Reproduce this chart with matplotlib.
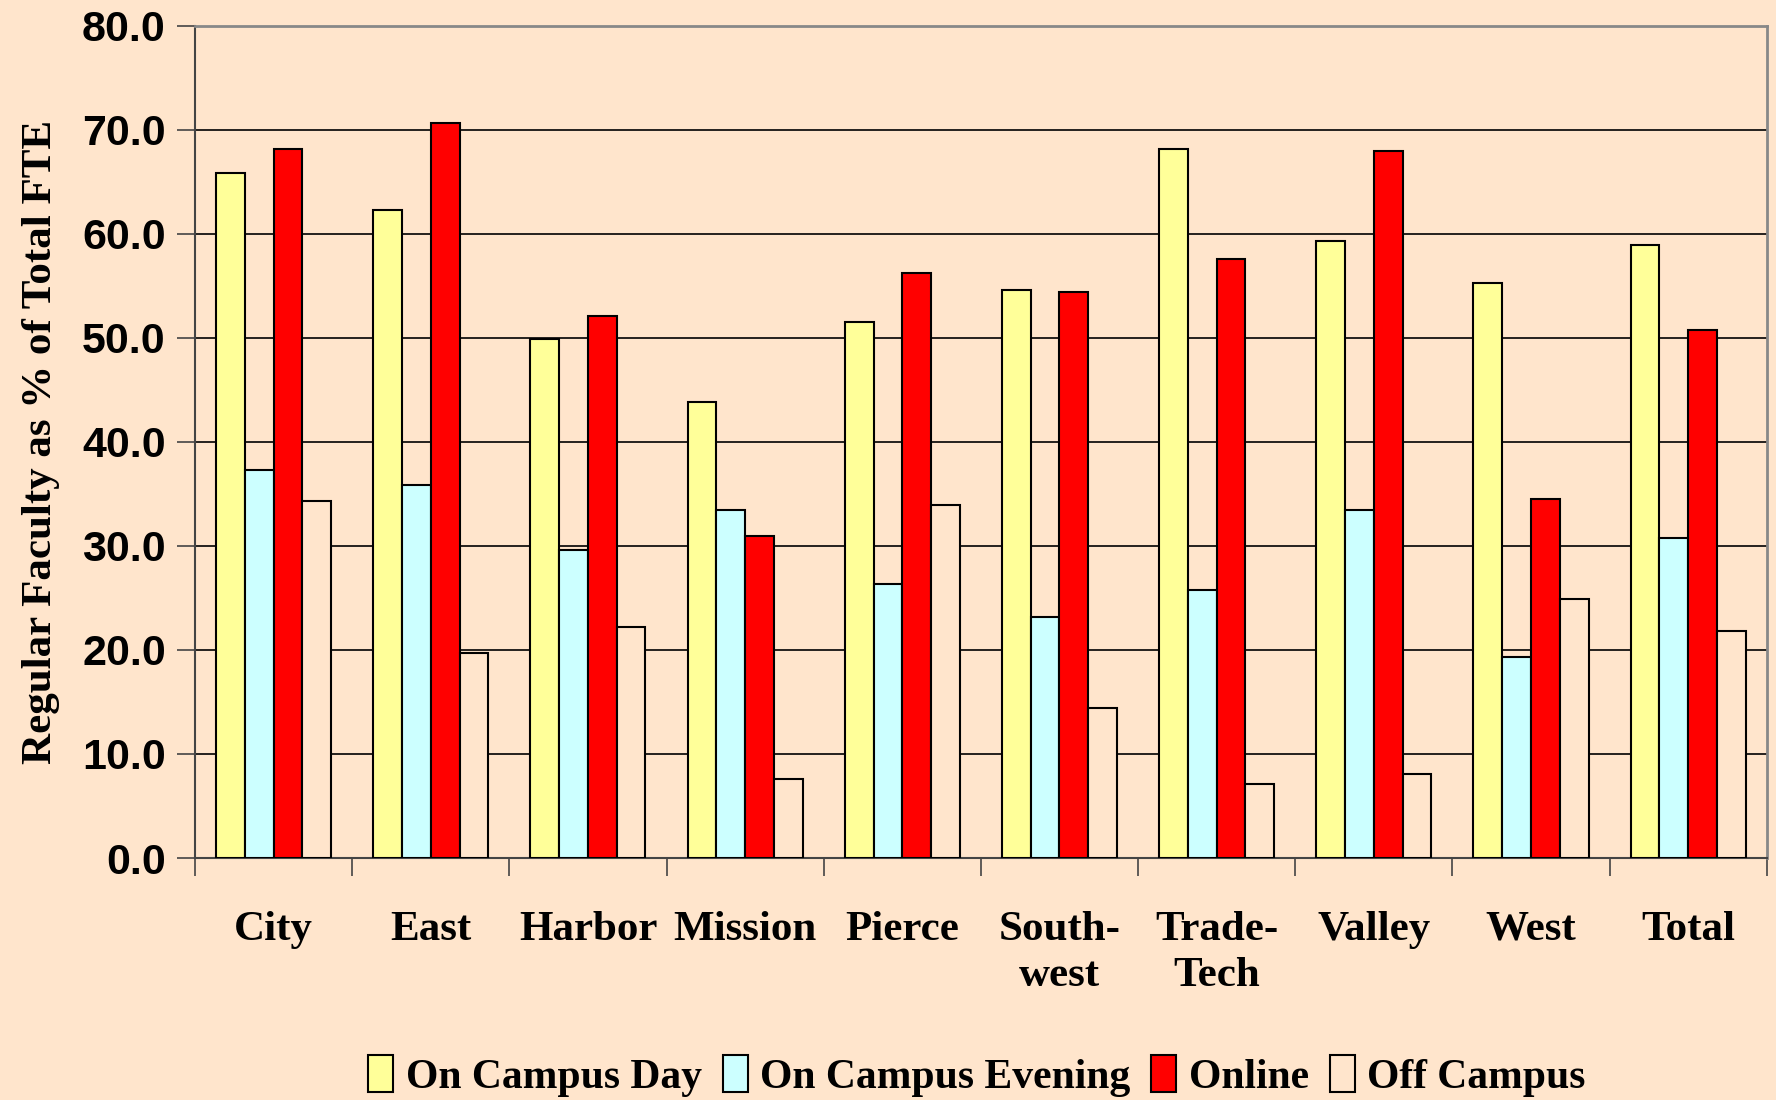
import numpy as np
import matplotlib.pyplot as plt
from matplotlib.ticker import FixedLocator

colleges = ["City", "East", "Harbor", "Mission", "Pierce", "South-\nwest",
            "Trade-\nTech", "Valley", "West", "Total"]
day = [65.9, 62.3, 49.9, 43.8, 51.5, 54.6, 68.2, 59.3, 55.3, 58.9]
evening = [37.3, 35.9, 29.6, 33.5, 26.3, 23.2, 25.8, 33.5, 19.3, 30.8]
online = [68.2, 70.7, 52.1, 31.0, 56.2, 54.4, 57.6, 68.0, 34.5, 50.8]
off_campus = [34.3, 19.7, 22.2, 7.6, 33.9, 14.4, 7.1, 8.1, 24.9, 21.8]

series = ["On Campus Day", "On Campus Evening", "Online", "Off Campus"]
bg = "#FFE5CC"
colors = ["#FFFF99", "#CCFFFF", "#FF0000", bg]

fig = plt.figure(figsize=(17.76, 11), dpi=100, facecolor=bg)
ax = fig.add_axes([0.1098, 0.22, 0.885, 0.7564], facecolor=bg)

x = np.arange(len(colleges))
w = 0.183
for i, vals in enumerate([day, evening, online, off_campus]):
    ax.bar(x + (i - 1.5) * w, vals, w, color=colors[i], edgecolor="black",
           linewidth=1.5, label=series[i], zorder=3)

ax.set_ylim(0, 80)
ax.set_xlim(-0.5, len(colleges) - 0.5)
ax.set_yticks(np.arange(0, 81, 10))
ax.set_yticklabels([f"{v:.1f}" for v in np.arange(0, 81, 10)],
                   fontfamily="Liberation Sans", fontweight="bold", fontsize=31)
ax.yaxis.grid(True, color="black", linewidth=1.2, zorder=0)
ax.tick_params(axis="y", length=13, width=1.2, color="#444444", pad=8)

ax.set_xticks(x)
ax.set_xticklabels(colleges, fontfamily="Liberation Serif", fontweight="bold",
                   fontsize=31, linespacing=1.3)
ax.xaxis.set_minor_locator(FixedLocator(np.arange(-0.5, len(colleges), 1)))
ax.tick_params(axis="x", which="major", length=0, pad=38)
ax.tick_params(axis="x", which="minor", length=13, width=1.2, color="#444444")

for s in ["top", "right"]:
    ax.spines[s].set_color("#888888")
    ax.spines[s].set_linewidth(2)
for s in ["left", "bottom"]:
    ax.spines[s].set_color("#444444")
    ax.spines[s].set_linewidth(1.5)

ax.set_ylabel("Regular Faculty as % of Total FTE", fontfamily="Liberation Serif",
              fontweight="bold", fontsize=31, labelpad=16)

leg = fig.legend(loc="lower center", bbox_to_anchor=(0.55, -0.031), ncol=4,
                 frameon=False, handlelength=0.6, handleheight=1.0,
                 handletextpad=0.3, columnspacing=0.5,
                 prop={"family": "Liberation Serif", "weight": "bold", "size": 30})

fig.savefig("out.png", dpi=100, facecolor=bg)
